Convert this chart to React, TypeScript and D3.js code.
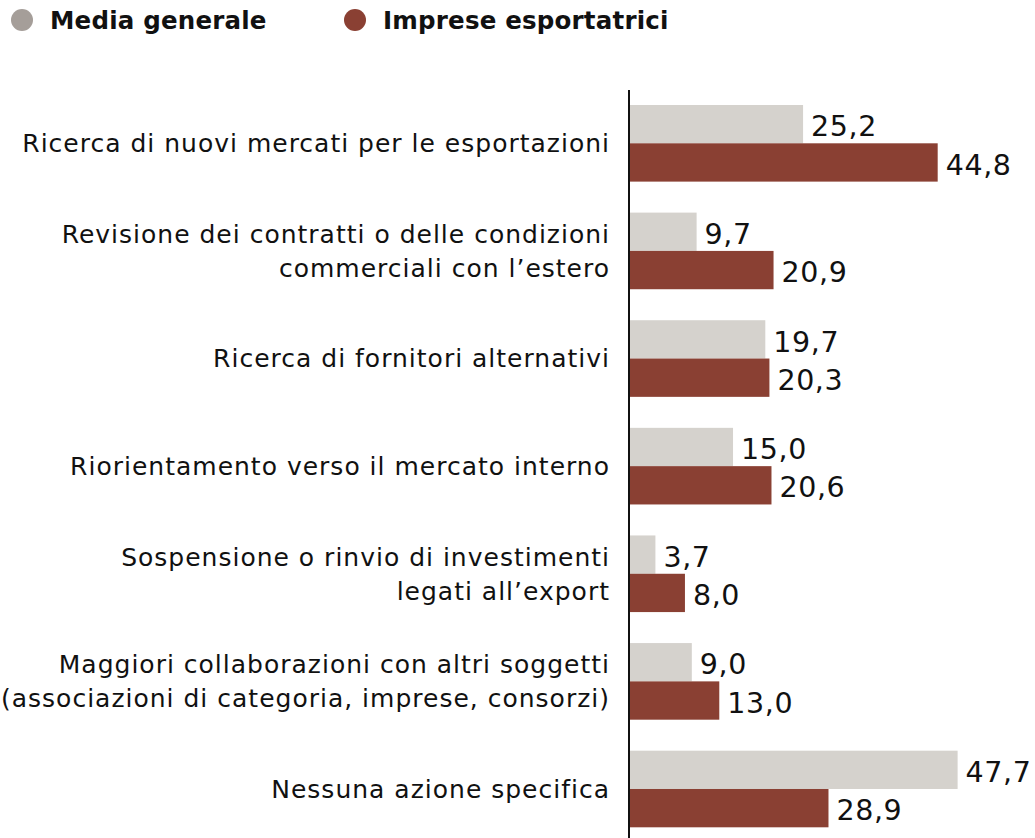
import React from "react";
import * as d3 from "d3";

const categories: string[][] = [
  ["Ricerca di nuovi mercati per le esportazioni"],
  ["Revisione dei contratti o delle condizioni", "commerciali con l\u2019estero"],
  ["Ricerca di fornitori alternativi"],
  ["Riorientamento verso il mercato interno"],
  ["Sospensione o rinvio di investimenti", "legati all\u2019export"],
  ["Maggiori collaborazioni con altri soggetti", "(associazioni di categoria, imprese, consorzi)"],
  ["Nessuna azione specifica"],
];
const mediaGenerale = [25.2, 9.7, 19.7, 15.0, 3.7, 9.0, 47.7];
const impreseEsportatrici = [44.8, 20.9, 20.3, 20.6, 8.0, 13.0, 28.9];
const seriesNames = ["Media generale", "Imprese esportatrici"];

const W = 1035;
const H = 838;
const FONT = "'DejaVu Sans', sans-serif";
const GREY = "#d5d2cd";
const GREY_LEG = "#a59e99";
const RED = "#8a4033";

export default function App() {
  const x0 = 630;
  const x = d3.scaleLinear().domain([0, 50]).range([x0, x0 + 6.868 * 50]);
  const idx = categories.map((_, i) => String(i));
  const y = d3
    .scaleBand<string>()
    .domain(idx)
    .range([89.5, 842.8])
    .paddingInner(0.288)
    .paddingOuter(0.144);
  const sub = d3.scaleBand<string>().domain(["m", "e"]).range([0, y.bandwidth()]);
  const fmt = (v: number) => d3.format(".1f")(v).replace(".", ",");
  const bh = sub.bandwidth();

  return (
    <svg
      width={W}
      height={H}
      style={{ position: "absolute", left: 0, top: 0, background: "#fff" }}
      fontFamily={FONT}
    >
      {/* legend */}
      <circle cx={22} cy={20} r={11} fill={GREY_LEG} />
      <text x={50} y={29} fontSize={24.5} fontWeight="bold" fill="#111" letterSpacing={0.2}>
        {seriesNames[0]}
      </text>
      <circle cx={355} cy={20} r={11} fill={RED} />
      <text x={383} y={29} fontSize={24.5} fontWeight="bold" fill="#111" letterSpacing={0.2}>
        {seriesNames[1]}
      </text>

      {categories.map((lines, i) => {
        const top = y(String(i))!;
        const cy = top + y.bandwidth() / 2;
        const lh = 34;
        const startY = cy - ((lines.length - 1) * lh) / 2;
        const m = mediaGenerale[i];
        const e = impreseEsportatrici[i];
        const ym = top + sub("m")!;
        const ye = top + sub("e")!;
        return (
          <g key={i}>
            {lines.map((ln, j) => (
              <text
                key={j}
                x={610}
                y={startY + j * lh}
                dy="0.35em"
                textAnchor="end"
                fontSize={25}
                letterSpacing={1}
                fill="#111"
              >
                {ln}
              </text>
            ))}
            <rect x={x(0)} y={ym} width={x(m) - x(0)} height={bh} fill={GREY} />
            <rect x={x(0)} y={ye} width={x(e) - x(0)} height={bh} fill={RED} />
            <text x={x(m) + 8} y={ym + bh - 7} fontSize={28.5} letterSpacing={0.6} fill="#111">
              {fmt(m)}
            </text>
            <text x={x(e) + 8} y={ye + bh - 7} fontSize={28.5} letterSpacing={0.6} fill="#111">
              {fmt(e)}
            </text>
          </g>
        );
      })}
      <line x1={629} x2={629} y1={90} y2={H} stroke="#111" strokeWidth={2} />
    </svg>
  );
}
